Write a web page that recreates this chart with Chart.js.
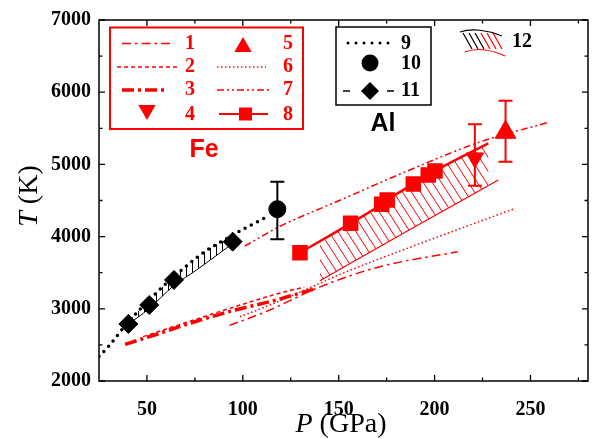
<!DOCTYPE html>
<html>
<head>
<meta charset="utf-8">
<script src="https://cdn.jsdelivr.net/npm/chart.js@4.4.0/dist/chart.umd.min.js"></script>
<style>
  html, body { margin: 0; padding: 0; background: #fff; overflow: hidden; }
</style>
</head>
<body>
<canvas id="myChart" width="592" height="439"></canvas>
<script>
const RED = '#ff0000';

// Al curves (P in GPa, T in K)
const al9P = [25, 30, 40, 50, 60, 70, 80, 90, 100, 113];
const al9T = [2340, 2480, 2810, 3090, 3350, 3580, 3790, 3950, 4100, 4280];
const al10P = [118];
const al10T = [4380];
const al10Low = [3965];
const al10High = [4760];
const al11P = [40.3, 51.2, 64.1, 94.7];
const al11T = [2790, 3053, 3400, 3930];
const alBandP = [40, 51, 64, 76, 95];
const alBandT = [2780, 3000, 3320, 3540, 3910];

// Fe curves
const fe1P = [93, 112, 140, 171, 212];
const fe1T = [2770, 2960, 3300, 3580, 3790];
const fe2P = [48, 68, 96, 119, 132];
const fe2T = [2615, 2790, 3030, 3215, 3300];
const fe3P = [38.6, 54, 75, 96, 114, 138.5];
const fe3T = [2508, 2637, 2821, 2983, 3098, 3284];
const fe4P = [221];
const fe4T = [5090];
const fe4Low = [4705];
const fe4High = [5555];
const fe5P = [237];
const fe5T = [5445];
const fe5Low = [5037];
const fe5High = [5882];
const fe6P = [98.5, 112, 140, 151, 190, 241];
const fe6T = [2890, 3030, 3350, 3480, 3880, 4380];
const fe7P = [101, 119, 151, 185, 224, 260];
const fe7T = [3870, 4137, 4507, 4900, 5314, 5587];
const fe8P = [129.8, 156.2, 172.4, 175.3, 188.9, 196.7, 200.2, 228];
const fe8T = [3777, 4184, 4447, 4507, 4729, 4853, 4909, 5292];
const feBandP = [140.2, 186, 233.2];
const feBandT = [3389, 4080, 4784];

// axes
const xMin = 25, xMax = 280, yMin = 2000, yMax = 7000;
const xTicks = [50, 100, 150, 200, 250];
const xMinor = [75, 125, 175, 225, 275];
const yTicks = [2000, 3000, 4000, 5000, 6000, 7000];
const yMinor = [2500, 3500, 4500, 5500, 6500];

function pts(xs, ys) {
  return xs.map((x, i) => ({ x: x, y: ys[i] }));
}

var ctx = document.getElementById('myChart').getContext('2d');

function hatch(color, w, h, vertical) {
  var c = document.createElement('canvas');
  c.width = w; c.height = h;
  var g = c.getContext('2d');
  g.strokeStyle = color;
  g.lineWidth = 1;
  g.beginPath();
  if (vertical) {
    g.moveTo(0.5, 0); g.lineTo(0.5, h);
  } else {
    for (let k = -1; k <= 1; k++) {
      g.moveTo(k * w, 0); g.lineTo(k * w + w, h);
    }
  }
  g.stroke();
  return ctx.createPattern(c, 'repeat');
}

const redHatch = hatch(RED, 9, 14, false);
const blackHatch = hatch('#000', 6, 6, true);

function line(data, color, width, dash, extra) {
  return Object.assign({
    data: data,
    showLine: true,
    borderColor: color,
    backgroundColor: color,
    borderWidth: width,
    borderDash: dash,
    pointRadius: 0,
    pointHoverRadius: 0,
    cubicInterpolationMode: 'monotone',
    fill: false
  }, extra || {});
}

function marker(data, color, style, radius, rotation) {
  return {
    data: data,
    showLine: false,
    pointStyle: style,
    pointRadius: radius,
    pointHoverRadius: radius,
    pointRotation: rotation || 0,
    pointBackgroundColor: color,
    pointBorderColor: color,
    pointBorderWidth: 1,
    borderColor: color,
    backgroundColor: color
  };
}

const errBars = [
  { ds: 2, low: al10Low, high: al10High, color: '#000' },
  { ds: 3, low: fe4Low, high: fe4High, color: RED },
  { ds: 4, low: fe5Low, high: fe5High, color: RED }
];

const framePlugin = {
  id: 'frame',
  afterDatasetsDraw(chart) {
    const c = chart.ctx, x = chart.scales.x, y = chart.scales.y;
    c.save();
    c.lineWidth = 2;
    errBars.forEach(function (e) {
      const meta = chart.getDatasetMeta(e.ds);
      meta.data.forEach(function (p, i) {
        const yl = y.getPixelForValue(e.low[i]);
        const yh = y.getPixelForValue(e.high[i]);
        c.strokeStyle = e.color;
        c.beginPath();
        c.moveTo(p.x, yl); c.lineTo(p.x, yh);
        c.moveTo(p.x - 7, yl); c.lineTo(p.x + 7, yl);
        c.moveTo(p.x - 7, yh); c.lineTo(p.x + 7, yh);
        c.stroke();
      });
    });
    c.restore();
  },
  afterDraw(chart) {
    const c = chart.ctx, a = chart.chartArea, x = chart.scales.x, y = chart.scales.y;
    c.save();
    c.strokeStyle = '#000';
    c.lineWidth = 1.5;
    c.strokeRect(a.left, a.top, a.right - a.left, a.bottom - a.top);
    c.lineWidth = 1.3;
    c.beginPath();
    function xt(vals, len) {
      vals.forEach(function (v) {
        const px = x.getPixelForValue(v);
        c.moveTo(px, a.bottom); c.lineTo(px, a.bottom - len);
        c.moveTo(px, a.top); c.lineTo(px, a.top + len);
      });
    }
    function yt(vals, len) {
      vals.forEach(function (v) {
        const py = y.getPixelForValue(v);
        c.moveTo(a.left, py); c.lineTo(a.left + len, py);
        c.moveTo(a.right, py); c.lineTo(a.right - len, py);
      });
    }
    xt(xTicks, 6); xt(xMinor, 3.5);
    yt(yTicks, 6); yt(yMinor, 3.5);
    c.stroke();

    // axis titles
    c.fillStyle = '#000';
    c.textBaseline = 'alphabetic';
    const it = 'italic 28px "Liberation Serif"', rg = '28px "Liberation Serif"';
    c.font = it; const wP = c.measureText('P').width;
    c.font = rg; const wG = c.measureText(' (GPa)').width;
    let sx = 341 - (wP + wG) / 2;
    c.font = it; c.fillText('P', sx, 432);
    c.font = rg; c.fillText(' (GPa)', sx + wP, 432);

    c.save();
    c.translate(37, 196);
    c.rotate(-Math.PI / 2);
    c.font = it; const wT = c.measureText('T').width;
    c.font = rg; const wK = c.measureText(' (K)').width;
    sx = -(wT + wK) / 2;
    c.font = it; c.fillText('T', sx, 0);
    c.font = rg; c.fillText(' (K)', sx + wT, 0);
    c.restore();

    drawLegend(c);
    c.restore();
  }
};

function seg(c, x1, x2, yy, color, width, dash, cap) {
  c.save();
  c.strokeStyle = color; c.lineWidth = width;
  c.setLineDash(dash); c.lineCap = cap || 'butt';
  c.beginPath(); c.moveTo(x1, yy); c.lineTo(x2, yy); c.stroke();
  c.restore();
}

function tri(c, cx, cy, r, down, color) {
  const s = down ? -1 : 1;
  c.fillStyle = color;
  c.beginPath();
  c.moveTo(cx, cy - s * r);
  c.lineTo(cx + r * 0.866, cy + s * r * 0.5);
  c.lineTo(cx - r * 0.866, cy + s * r * 0.5);
  c.closePath(); c.fill();
}

function drawLegend(c) {
  // Fe box
  c.strokeStyle = RED; c.lineWidth = 2;
  c.strokeRect(110, 27.5, 193, 101.5);
  seg(c, 122, 172, 43.5, RED, 1.5, [9, 4, 2.5, 4]);
  seg(c, 117, 178, 67, RED, 1.5, [4, 3]);
  seg(c, 122, 168, 90, RED, 3.5, [12, 4, 3, 4]);
  tri(c, 147, 110, 10, true, RED);
  tri(c, 243, 47, 10, false, RED);
  seg(c, 217, 266, 67, RED, 1.5, [1.5, 2.5]);
  seg(c, 217, 272, 90, RED, 1.5, [7, 3, 2, 3, 2, 3]);
  seg(c, 219, 268, 114, RED, 2, []);
  c.fillStyle = RED;
  c.fillRect(239, 107.5, 13, 13);

  c.font = 'bold 20px "Liberation Serif"';
  c.textAlign = 'center'; c.textBaseline = 'middle';
  ['1', '2', '3', '4'].forEach(function (t, i) {
    c.fillText(t, 190, [44, 67, 90, 115][i]);
  });
  ['5', '6', '7', '8'].forEach(function (t, i) {
    c.fillText(t, 288, [44, 67, 90, 115][i]);
  });
  c.font = 'bold 25px "Liberation Sans"';
  c.textBaseline = 'alphabetic';
  c.fillText('Fe', 204, 157);

  // Al box
  c.strokeStyle = '#000'; c.lineWidth = 1.5;
  c.strokeRect(336, 27, 95, 78);
  seg(c, 348, 391, 43, '#000', 3, [0, 8], 'round');
  c.fillStyle = '#000';
  c.beginPath(); c.arc(370, 63, 8.5, 0, Math.PI * 2); c.fill();
  seg(c, 343, 394, 91, '#000', 1.5, [7, 37, 7]);
  c.beginPath();
  c.moveTo(370, 82); c.lineTo(379, 91); c.lineTo(370, 100); c.lineTo(361, 91);
  c.closePath(); c.fill();
  c.font = 'bold 20px "Liberation Serif"';
  c.textAlign = 'left'; c.textBaseline = 'middle';
  c.fillText('9', 401, 44);
  c.fillText('10', 401, 64);
  c.fillText('11', 401, 91);
  c.font = 'bold 25px "Liberation Sans"';
  c.textAlign = 'center'; c.textBaseline = 'alphabetic';
  c.fillText('Al', 383, 131);

  // band symbol 12
  c.lineWidth = 1.2;
  c.strokeStyle = '#000';
  c.beginPath(); c.moveTo(460, 32); c.bezierCurveTo(472, 28, 488, 30, 502, 36); c.stroke();
  c.strokeStyle = RED;
  c.beginPath(); c.moveTo(465, 52); c.bezierCurveTo(478, 47, 492, 50, 505, 56); c.stroke();
  for (let i = 0; i < 6; i++) {
    const hx = 463 + i * 6;
    c.strokeStyle = i < 3 ? '#000' : RED;
    c.beginPath(); c.moveTo(hx, 33); c.lineTo(hx + 9, 49); c.stroke();
  }
  c.fillStyle = '#000';
  c.font = 'bold 20px "Liberation Serif"';
  c.textAlign = 'left'; c.textBaseline = 'middle';
  c.fillText('12', 512, 42);
}

var myChart = new Chart(ctx, {
  type: 'scatter',
  data: {
    datasets: [
      line(pts(fe8P, fe8T), RED, 2.5, [], {
        pointStyle: 'rect',
        pointRadius: fe8P.map((v, i) => i < fe8P.length - 1 ? 9.2 : 0),
        pointBackgroundColor: RED, pointBorderColor: RED
      }),
      marker(pts(al11P, al11T), '#000', 'rectRot', 9.5),
      marker(pts(al10P, al10T), '#000', 'circle', 8.5),
      marker(pts(fe4P, fe4T), RED, 'triangle', 10, 180),
      marker(pts(fe5P, fe5T), RED, 'triangle', 12),
      line(pts(al9P, al9T), '#000', 3.5, [0, 7], { borderCapStyle: 'round' }),
      line(pts(alBandP, alBandT), '#000', 1, [], { fill: { target: 5 }, backgroundColor: blackHatch }),
      line(pts(feBandP, feBandT), RED, 1.2, [], { fill: { target: 0 }, backgroundColor: redHatch }),
      line(pts(fe1P, fe1T), RED, 1.5, [9, 4, 2.5, 4]),
      line(pts(fe2P, fe2T), RED, 1.5, [4, 3]),
      line(pts(fe3P, fe3T), RED, 3.5, [12, 4, 3, 4]),
      line(pts(fe6P, fe6T), RED, 1.5, [1.5, 2.5]),
      line(pts(fe7P, fe7T), RED, 1.5, [7, 3, 2, 3, 2, 3])
    ]
  },
  options: {
    responsive: false,
    animation: false,
    layout: { autoPadding: false, padding: { left: 0, right: 4, top: 20, bottom: 0 } },
    plugins: {
      legend: { display: false },
      tooltip: { enabled: false }
    },
    scales: {
      x: {
        type: 'linear',
        min: xMin, max: xMax,
        grid: { display: false, drawTicks: false },
        border: { display: false },
        afterBuildTicks: function (s) { s.ticks = xTicks.map(v => ({ value: v })); },
        afterFit: function (s) { s.height = 58; s.paddingLeft = 0; s.paddingRight = 0; },
        ticks: {
          color: '#000', padding: 17,
          font: { family: 'Liberation Serif', weight: 'bold', size: 20 }
        }
      },
      y: {
        type: 'linear',
        min: yMin, max: yMax,
        grid: { display: false, drawTicks: false },
        border: { display: false },
        afterBuildTicks: function (s) { s.ticks = yTicks.map(v => ({ value: v })); },
        afterFit: function (s) { s.width = 99; s.paddingTop = 0; s.paddingBottom = 0; },
        ticks: {
          color: '#000', padding: 8,
          font: { family: 'Liberation Serif', weight: 'bold', size: 20 },
          callback: function (v) { return String(v); }
        }
      }
    }
  },
  plugins: [framePlugin]
});
</script>
</body>
</html>
